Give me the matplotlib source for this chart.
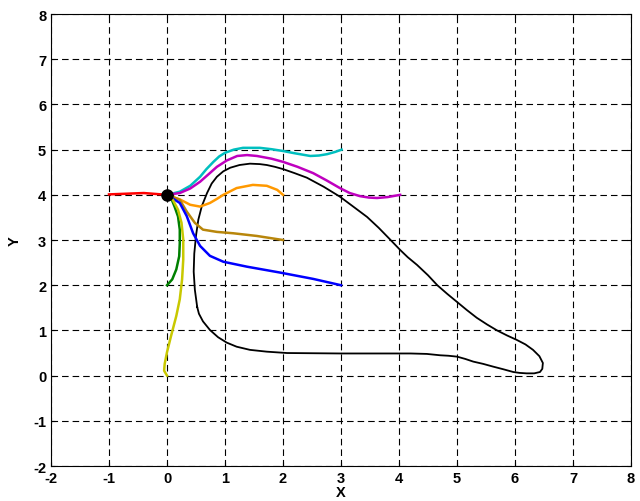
import numpy as np
import matplotlib.pyplot as plt

plt.rcParams['font.family'] = ['Liberation Sans', 'DejaVu Sans']
plt.rcParams['axes.unicode_minus'] = False

# closed black loop
loop_x = [0.52, 0.48, 0.46, 0.47, 0.5, 0.54, 0.6, 0.69, 0.77, 0.86, 0.97, 1.09, 1.25,
          1.43, 1.6, 1.72, 1.86, 2.0, 2.2, 2.41, 2.7, 2.98, 3.2, 3.45, 3.65, 3.84, 4.02,
          4.15, 4.31, 4.5, 4.66, 4.83, 5.0, 5.17, 5.34, 5.52, 5.69, 5.86, 6.03, 6.18,
          6.31, 6.42, 6.48, 6.47, 6.43, 6.33, 6.2, 6.08, 5.97, 5.8, 5.62, 5.45, 5.28,
          5.14, 5.0, 4.85, 4.71, 4.48, 4.2, 3.67, 3.0, 2.07, 1.72, 1.43, 1.2, 1.03,
          0.88, 0.74, 0.62, 0.55, 0.52]
loop_y = [1.52, 1.9, 2.3, 2.7, 3.1, 3.45, 3.75, 4.04, 4.25, 4.4, 4.52, 4.6, 4.66,
          4.69, 4.68, 4.66, 4.62, 4.57, 4.48, 4.38, 4.18, 3.96, 3.75, 3.51, 3.27, 3.02, 2.78,
          2.62, 2.45, 2.22, 2.0, 1.81, 1.63, 1.45, 1.28, 1.13, 1.0, 0.89, 0.79, 0.69,
          0.57, 0.43, 0.28, 0.15, 0.08, 0.05, 0.05, 0.06, 0.08, 0.14, 0.2, 0.26, 0.31,
          0.37, 0.42, 0.44, 0.45, 0.48, 0.49, 0.49, 0.49, 0.5, 0.53, 0.57, 0.64, 0.73,
          0.85, 1.01, 1.2, 1.37, 1.52]

# paths converging to the target point
red_x = [-1.0, -0.8, -0.6, -0.4, -0.2, 0.0]
red_y = [4.01, 4.02, 4.03, 4.04, 4.02, 4.0]

cyan_x = [0.0, 0.1, 0.22, 0.4, 0.57, 0.68, 0.8, 0.9, 1.0, 1.15, 1.31, 1.6, 1.8, 2.0,
          2.2, 2.47, 2.62, 2.76, 2.9, 3.01]
cyan_y = [4.0, 4.03, 4.07, 4.2, 4.4, 4.57, 4.73, 4.85, 4.93, 5.0, 5.04, 5.04, 5.01, 4.97,
          4.92, 4.86, 4.87, 4.9, 4.95, 5.0]

magenta_x = [0.0, 0.22, 0.4, 0.57, 0.72, 0.86, 1.03, 1.21, 1.38, 1.55, 1.8, 2.0, 2.25,
             2.52, 2.75, 2.98, 3.15, 3.33, 3.48, 3.62, 3.8, 4.02]
magenta_y = [4.0, 4.04, 4.14, 4.29, 4.46, 4.62, 4.76, 4.86, 4.88, 4.86, 4.8, 4.73, 4.62,
             4.48, 4.32, 4.15, 4.04, 3.97, 3.94, 3.93, 3.95, 4.0]

orange_x = [0.0, 0.22, 0.4, 0.57, 0.74, 0.86, 0.97, 1.2, 1.48, 1.72, 1.9, 2.0]
orange_y = [4.0, 3.9, 3.78, 3.74, 3.82, 3.91, 4.0, 4.15, 4.22, 4.2, 4.11, 4.0]

brown_x = [0.0, 0.22, 0.34, 0.48, 0.62, 0.86, 1.14, 1.55, 2.0]
brown_y = [4.0, 3.89, 3.63, 3.38, 3.23, 3.18, 3.15, 3.09, 3.0]

blue_x = [0.0, 0.22, 0.34, 0.45, 0.57, 0.74, 0.97, 1.38, 1.95, 2.52, 3.0]
blue_y = [4.0, 3.82, 3.53, 3.15, 2.87, 2.65, 2.52, 2.41, 2.28, 2.14, 2.0]

green_x = [0.0, 0.07, 0.13, 0.19, 0.22, 0.22, 0.21, 0.16, 0.09, 0.0]
green_y = [4.0, 3.93, 3.74, 3.52, 3.23, 2.93, 2.64, 2.35, 2.13, 2.0]

yellow_x = [0.0, 0.1, 0.19, 0.25, 0.28, 0.28, 0.26, 0.22, 0.16, 0.07, 0.0, -0.04,
            -0.05, 0.0]
yellow_y = [4.0, 3.89, 3.67, 3.38, 3.01, 2.57, 2.13, 1.69, 1.32, 0.88, 0.52, 0.26,
            0.11, 0.0]

fig = plt.figure(figsize=(6.4, 5.02), dpi=100)
ax = fig.add_axes([0.0797, 0.0697, 0.9063, 0.9003])

ax.plot(loop_x, loop_y, color='black', linewidth=1.3)
ax.plot(red_x, red_y, color='red', linewidth=1.8)
ax.plot(cyan_x, cyan_y, color='#00bfbf', linewidth=1.8)
ax.plot(magenta_x, magenta_y, color='#bf00bf', linewidth=1.8)
ax.plot(orange_x, orange_y, color='#ff9900', linewidth=1.8)
ax.plot(brown_x, brown_y, color='#b8860b', linewidth=1.8)
ax.plot(blue_x, blue_y, color='blue', linewidth=1.8)
ax.plot(green_x, green_y, color='green', linewidth=1.8)
ax.plot(yellow_x, yellow_y, color='#c8c800', linewidth=1.8)
ax.plot([0], [4], 'o', color='black', markersize=8)

ax.set_xlim(-2, 8)
ax.set_ylim(-2, 8)
ax.set_xticks(range(-2, 9))
ax.set_yticks(range(-2, 9))
ax.grid(True, color='black', linewidth=0.8, linestyle=(0, (5.9, 3.6)))
ax.tick_params(direction='in', length=3, top=True, right=True, labelsize=10.5)
for lbl in ax.get_xticklabels() + ax.get_yticklabels():
    lbl.set_fontweight('bold')
ax.set_xlabel('X', fontsize=10.5, fontweight='bold', labelpad=0)
ax.set_ylabel('Y', fontsize=10.5, fontweight='bold', labelpad=8)

fig.savefig('out.png', dpi=100)
